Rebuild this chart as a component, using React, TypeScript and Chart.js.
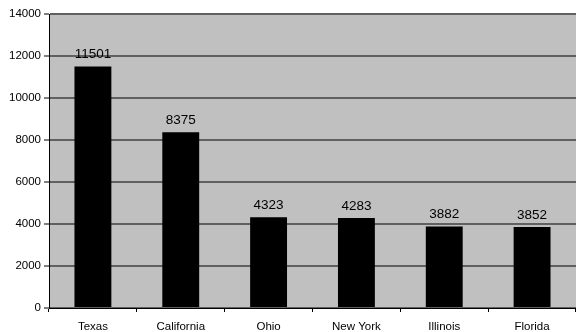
import React, { useEffect, useRef } from "react";
import { Chart, registerables } from "chart.js";

Chart.register(...registerables);

const categories = ["Texas", "California", "Ohio", "New York", "Illinois", "Florida"];
const values = [11501, 8375, 4323, 4283, 3882, 3852];
const yMin = 0;
const yMax = 14000;
const yStep = 2000;

const plotBg = {
  id: "plotBg",
  beforeDraw(chart: any) {
    const { ctx, chartArea } = chart;
    ctx.save();
    ctx.fillStyle = "#c0c0c0";
    ctx.fillRect(chartArea.left, chartArea.top, chartArea.right - chartArea.left, chartArea.bottom - chartArea.top);
    ctx.restore();
  },
};

const valueLabels = {
  id: "valueLabels",
  afterDatasetsDraw(chart: any) {
    const { ctx } = chart;
    const meta = chart.getDatasetMeta(0);
    ctx.save();
    ctx.fillStyle = "#000";
    ctx.font = "13.5px 'Liberation Sans', Arial, sans-serif";
    ctx.textAlign = "center";
    ctx.textBaseline = "alphabetic";
    meta.data.forEach((el: any, i: number) => {
      ctx.fillText(String(values[i]), el.x, el.y - 8);
    });
    ctx.restore();
  },
};

export default function App() {
  const ref = useRef<HTMLCanvasElement>(null);
  useEffect(() => {
    if (!ref.current) return;
    const chart = new Chart(ref.current, {
      type: "bar",
      data: {
        labels: categories,
        datasets: [
          {
            data: values,
            backgroundColor: "#000",
            borderWidth: 0,
            barPercentage: 0.42,
            categoryPercentage: 1,
          },
        ],
      },
      options: {
        animation: false,
        responsive: false,
        layout: { padding: { top: 14, right: 0, left: 0, bottom: 0 } },
        plugins: { legend: { display: false }, tooltip: { enabled: false } },
        scales: {
          x: {
            grid: { display: true, drawOnChartArea: false, drawTicks: true, tickLength: 4, offset: true, color: "#000" },
            border: { display: true, color: "#000", width: 1 },
            ticks: { color: "#000", padding: 8, font: { family: "'Liberation Sans', Arial, sans-serif", size: 11.5 }, maxRotation: 0, autoSkip: false },
            afterFit(scale: any) {
              scale.height = 24;
            },
          },
          y: {
            min: yMin,
            max: yMax,
            ticks: {
              stepSize: yStep,
              color: "#000",
              padding: 3,
              font: { family: "'Liberation Sans', Arial, sans-serif", size: 11.5 },
              callback: (v: any) => String(v),
            },
            grid: { color: "#606060", lineWidth: 2, tickLength: 5, tickColor: "#000", tickWidth: 1 },
            border: { display: true, color: "#000", width: 1 },
            afterFit(scale: any) {
              scale.width = 49;
            },
          },
        },
      },
      plugins: [plotBg, valueLabels],
    });
    return () => chart.destroy();
  }, []);
  return (
    <div style={{ position: "fixed", left: 0, top: 0, width: 576, height: 332, background: "#fff" }}>
      <canvas ref={ref} width={576} height={332} style={{ display: "block" }} />
    </div>
  );
}
